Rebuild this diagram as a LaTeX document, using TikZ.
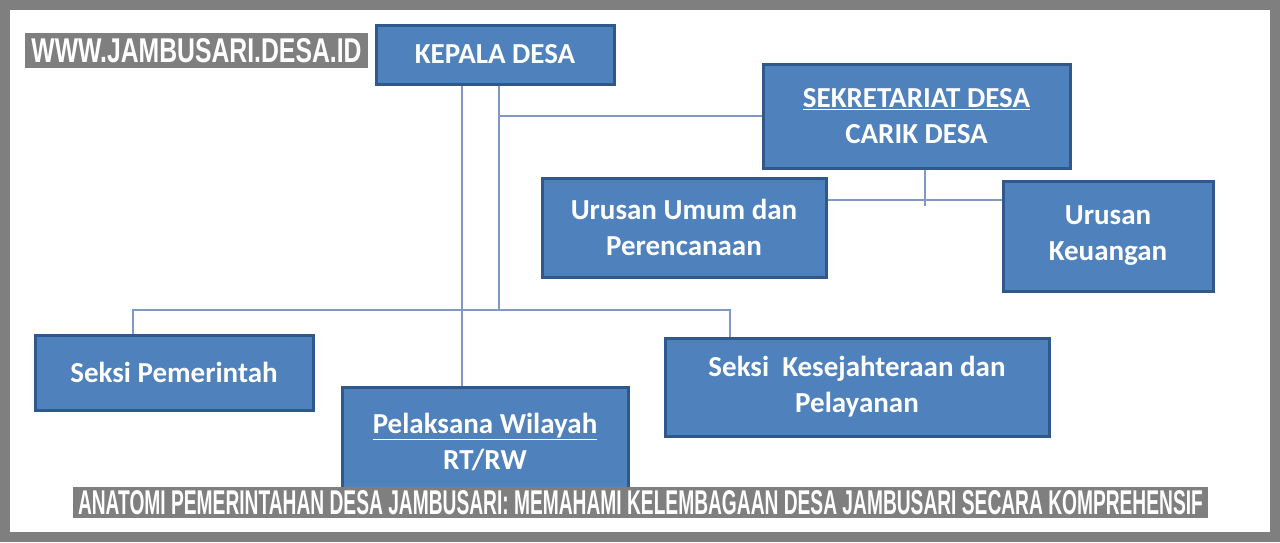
\documentclass[tikz,border=0pt]{standalone}
\usepackage{fontspec}
\setmainfont{Carlito}
\newfontfamily\wmfont{Liberation Sans}
\definecolor{frame}{HTML}{7F7F7F}
\definecolor{boxfill}{HTML}{4F81BD}
\definecolor{boxline}{HTML}{30598B}
\definecolor{conncol}{HTML}{8099C4}
\tikzset{
  orgbox/.style={draw=boxline, fill=boxfill, line width=3pt, inner sep=0pt,
    text=white, align=center, font=\bfseries\fontsize{29}{36}\selectfont},
  conn/.style={draw=conncol, line width=2.5pt},
  wmbox/.style={fill=frame, inner sep=0pt, text=white}
}
\begin{document}
\begin{tikzpicture}[x=1pt,y=-1pt]
\useasboundingbox (0,0) rectangle (1280,542);
\fill[frame] (0,0) rectangle (1280,542);
\fill[white] (10,10) rectangle (1270,532);

% helper coordinates
\coordinate (v1) at (462,0);
\coordinate (v2) at (499,0);
\coordinate (bl) at (133,310);
\coordinate (br) at (730,310);
\coordinate (v3) at (925,0);
\coordinate (j) at (925,206);
\coordinate (h) at (0,200);

% boxes
\node[orgbox, minimum width=238, minimum height=59] (kd) at (495,54.5) {\raisebox{-2pt}{KEPALA DESA}};
\node[orgbox, minimum width=307, minimum height=104] (sk) at (916.5,116) {\underline{SEKRETARIAT DESA}\\CARIK DESA};
\node[orgbox, minimum width=284, minimum height=99] (uu) at (684,227.5) {Urusan Umum dan\\Perencanaan};
\node[orgbox, minimum width=210, minimum height=110] (uk) at (1108,236) {Urusan\\Keuangan};
\node[orgbox, minimum width=278, minimum height=75] (sp) at (174,372.5) {\raisebox{-2pt}{Seksi Pemerintah}};
\node[orgbox, minimum width=286, minimum height=110] (pw) at (485,442) {\underline{Pelaksana Wilayah}\\RT/RW};
\node[orgbox, minimum width=384, minimum height=98] (ks) at (857,387) {Seksi\ \ Kesejahteraan dan\\Pelayanan};

% connectors
\draw[conn] (kd.south -| v1) -- (pw.north -| v1);
\draw[conn] (kd.south -| v2) -- (v2 |- bl);
\draw[conn] (sk.west -| v2) -- (sk.west);
\draw[conn] (sp.north -| bl) -- (bl) -- (br) -- (ks.north -| br);
\draw[conn] (sk.south -| v3) -- (j);
\draw[conn] (uu.east |- h) -- (uk.west |- h);

% watermark texts
\node[wmbox, minimum width=343, minimum height=35] (wm) at (196.5,50.5)
  {\resizebox{330pt}{24pt}{\wmfont\bfseries WWW.JAMBUSARI.DESA.ID}};
\node[wmbox, minimum width=1135, minimum height=31] (cap) at (640.5,502.5)
  {\resizebox{1125pt}{24pt}{\wmfont\bfseries ANATOMI PEMERINTAHAN DESA JAMBUSARI: MEMAHAMI KELEMBAGAAN DESA JAMBUSARI SECARA KOMPREHENSIF}};
\end{tikzpicture}
\end{document}
